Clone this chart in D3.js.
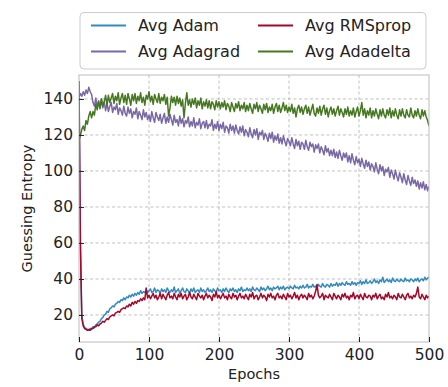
<!DOCTYPE html>
<html>
<head>
<meta charset="utf-8">
<script src="https://cdn.jsdelivr.net/npm/d3@7"></script>
<style>
  body { margin: 0; background: white; }
  text { font-family: "DejaVu Sans", sans-serif; }
</style>
</head>
<body>
<script>
// epochs sampled every 2
const epochs = d3.range(0, 501, 2);

const adam = [
  150, 60, 20, 15, 13, 12.5, 12, 11.5, 12.5, 12,
  13.5, 13, 14.5, 15, 16, 16.5, 18, 18.5, 20, 20.5,
  22, 21.5, 23.5, 24, 25, 24.5, 26, 26.5, 27.5, 27,
  28.5, 28, 29.5, 28.5, 30, 29.5, 31, 30, 31.5, 30.5,
  32, 31, 32.5, 31.5, 33.5, 32, 33, 32.5, 34, 32.5,
  33.5, 34.5, 32.5, 33, 35, 32.5, 34, 33.5, 32, 34.5,
  33, 34, 32.5, 35, 33.5, 32.5, 34, 33, 35.5, 32.5,
  33.5, 34.5, 32, 33.5, 35, 33, 32.5, 34.5, 33.5, 32,
  34.5, 33, 35, 32.5, 33.5, 34, 32.5, 35, 33, 34,
  32.5, 33.5, 35, 33, 34, 32.5, 34.5, 33.5, 32.5, 35,
  33.5, 34, 32.5, 34.5, 33, 35, 33.5, 32.5, 34.5, 33.5,
  35, 33, 34, 32.5, 34.5, 33.5, 35.5, 33, 34, 33.5,
  35, 33.5, 34.5, 33, 35.5, 34, 33.5, 35, 34, 33,
  35.5, 34, 35, 33.5, 34.5, 36, 34, 35, 33.5, 35.5,
  34.5, 35, 36, 34, 35.5, 34.5, 36, 34, 35, 35.5,
  34.5, 36, 35, 34.5, 36.5, 35, 35.5, 34.5, 36, 35,
  36.5, 35, 35.5, 37, 35, 36, 35.5, 37, 35.5, 36,
  35, 37, 36, 35.5, 37.5, 36, 35.5, 37, 36.5, 35.5,
  37.5, 36, 37, 36.5, 38, 36, 37.5, 36.5, 38, 37,
  36.5, 38.5, 37, 37.5, 36.5, 38.5, 37, 38, 36.5, 38,
  37.5, 39, 37, 38.5, 37.5, 39.5, 37.5, 38, 39, 37.5,
  38.5, 40, 38, 39, 37.5, 39.5, 38.5, 41, 38, 39,
  40, 38.5, 39.5, 38, 40.5, 39, 38.5, 40, 39, 38.5,
  40, 39, 38.5, 40.5, 39, 39.5, 38.5, 40, 39.5, 38.5,
  40, 39, 40.5, 38.5, 39.5, 40, 39, 41, 39.5, 40.5,
  41];

const rmsprop = [
  150, 58, 18, 14, 12.5, 12, 11.5, 12, 11.5, 12.5,
  12.5, 13.5, 13.5, 14.5, 14, 15, 15.5, 16.5, 16, 17,
  18, 17.5, 19, 19.5, 20, 19.5, 21, 21.5, 22, 21.5,
  23, 23.5, 24, 23.5, 25, 24.5, 26, 25, 27, 26,
  27.5, 26.5, 28, 27.5, 29, 28, 29.5, 28.5, 35, 29.5,
  31, 29, 30.5, 32, 29.5, 31, 28.5, 30, 32, 29,
  31.5, 30, 28.5, 31, 32.5, 29.5, 30.5, 29, 32, 30,
  28.5, 31.5, 30, 32, 29, 30.5, 31.5, 28.5, 30, 32.5,
  30, 29, 31.5, 30, 28.5, 32, 30.5, 29.5, 31, 28.5,
  30.5, 32, 29.5, 31, 30, 28, 31.5, 30, 33, 29.5,
  31, 29, 30.5, 32, 29.5, 30.5, 28.5, 31.5, 30, 29,
  32, 30, 31, 28.5, 30.5, 32, 29.5, 30.5, 29, 31.5,
  30, 28.5, 31.5, 30, 32.5, 29, 30.5, 31, 28.5, 30,
  32, 29.5, 31, 30, 28, 31.5, 30, 32, 29.5, 30.5,
  28.5, 31, 32, 29.5, 30.5, 29, 31.5, 30, 28.5, 32,
  30, 31, 29, 30.5, 32.5, 29.5, 31, 28.5, 30.5, 31.5,
  29.5, 31, 30, 28.5, 32, 30, 31, 29, 30.5, 33,
  37, 31, 29.5, 30.5, 32, 28.5, 31, 30, 29.5, 31.5,
  30, 28.5, 32, 30.5, 29, 31, 30, 28.5, 31.5, 30,
  32, 29.5, 30.5, 28.5, 31, 30, 32.5, 29, 30.5, 31,
  29, 31.5, 30, 28.5, 32, 30, 29.5, 31, 30.5, 28.5,
  31, 30, 32, 29, 30.5, 31.5, 29, 30, 28.5, 31.5,
  30, 32.5, 29.5, 30.5, 29, 31, 30, 28.5, 32, 30,
  29.5, 31.5, 30, 28.5, 31, 32, 29.5, 30.5, 29, 31,
  30, 32, 35.5, 30, 29, 31.5, 30, 28.5, 31, 29.5,
  30.5];

const adagrad = [
  141, 143, 141.5, 144, 142, 145, 143, 146.5, 144, 142.5,
  138, 136, 140.5, 135.5, 139, 134.5, 140, 135, 138.5, 133.5,
  137.5, 133, 136, 138, 132.5, 135.5, 134, 137.5, 131.5, 135,
  133.5, 131, 136, 132, 130.5, 135.5, 132, 134.5, 129.5, 133,
  131.5, 135, 129, 133, 131, 128.5, 134, 130, 132.5, 128.5,
  131, 127.5, 133, 129.5, 127, 132.5, 130, 128, 131.5, 126.5,
  129.5, 132, 126.5, 130, 127, 131.5, 128.5, 125.5, 131, 127,
  128.5, 125, 130.5, 126.5, 129, 124.5, 128, 126.5, 130, 124.5,
  127.5, 125, 129.5, 124, 127, 125.5, 129, 123.5, 126.5, 127.5,
  124, 128, 123.5, 126, 125, 128.5, 122.5, 126, 123.5, 127.5,
  122.5, 126, 123.5, 127, 121.5, 125, 124, 121, 126, 122.5,
  125, 121, 125.5, 122.5, 120.5, 124.5, 121.5, 125, 119.5, 123,
  121.5, 119, 124, 120.5, 118.5, 123, 120, 123.5, 117.5, 121.5,
  120, 122.5, 117.5, 121, 119, 116.5, 121, 118, 121.5, 116,
  119.5, 117, 120.5, 115.5, 118.5, 115, 119.5, 116.5, 114, 118,
  116.5, 114, 118.5, 115, 112.5, 117.5, 114, 116.5, 112, 116,
  115, 112, 117, 113.5, 111.5, 116, 113.5, 115, 110.5, 114.5,
  112.5, 115, 110, 113.5, 111.5, 109, 114, 110.5, 112.5, 108.5,
  111.5, 108.5, 112, 107.5, 110.5, 107, 111.5, 108.5, 106, 110,
  107.5, 110, 105, 108.5, 104.5, 109.5, 106, 103.5, 108, 104.5,
  106.5, 102.5, 107, 104, 101.5, 106, 102.5, 105, 100.5, 104,
  102.5, 99.5, 104.5, 101, 98.5, 103.5, 100, 102.5, 97.5, 101,
  99.5, 102, 96.5, 100.5, 98.5, 95.5, 100.5, 97, 94.5, 99,
  96.5, 93.5, 98.5, 95, 92.5, 97.5, 94.5, 92, 96.5, 93,
  95, 91.5, 94.5, 90, 93.5, 90.5, 94, 89.5, 92.5, 89,
  91.5];

const adadelta = [
  117, 120, 123, 125, 122.5, 128, 126, 130.5, 133, 129.5,
  133, 131, 137, 134, 138.5, 135, 140, 136, 138.5, 142,
  136.5, 142, 138, 140.5, 143, 137.5, 141.5, 139, 143.5, 137,
  140.5, 143, 138, 142, 137, 143, 140, 136.5, 142.5, 139,
  143, 137.5, 141.5, 139, 143.5, 138, 141, 136.5, 142, 140,
  144, 138.5, 141.5, 137, 142.5, 140, 138, 143, 137.5, 141,
  139, 142.5, 137, 141, 130.5, 135, 141.5, 138, 141, 136.5,
  141.5, 137.5, 140.5, 136, 139.5, 129.5, 137.5, 143.5, 136.5, 139.5,
  135.5, 140, 137, 140.5, 135, 139, 136.5, 140.5, 134.5, 138.5,
  136, 139.5, 135, 139, 134.5, 138.5, 137, 134, 139, 135.5,
  138.5, 134.5, 138, 135.5, 139, 134, 137.5, 136, 133, 138,
  135.5, 133, 137.5, 135, 138.5, 133.5, 136.5, 134.5, 138, 133,
  136.5, 133.5, 137.5, 134.5, 132, 137, 134.5, 138, 133, 136.5,
  134.5, 132, 137, 134, 137.5, 132.5, 135.5, 133.5, 137, 132,
  135.5, 137.5, 133, 136.5, 132.5, 135, 138, 133.5, 136.5, 132.5,
  135.5, 133, 137, 132, 135, 130, 134.5, 136.5, 132.5, 135.5,
  131.5, 134.5, 136.5, 132, 135.5, 131, 134, 137, 132, 130.5,
  135, 132, 136, 131, 134.5, 136.5, 131.5, 135, 130, 133.5,
  135.5, 131.5, 134.5, 130.5, 133.5, 136, 131, 134.5, 132.5, 130,
  134.5, 131.5, 135.5, 130.5, 133.5, 131, 135, 130, 133, 135.5,
  130.5, 133.5, 138, 131, 134.5, 129.5, 133.5, 131, 135, 129.5,
  133.5, 130.5, 134.5, 131.5, 129, 134, 130.5, 134.5, 131, 129.5,
  134, 131, 135, 129.5, 133.5, 130.5, 134.5, 131, 129, 134,
  130.5, 134.5, 131, 129.5, 134, 131, 130, 135, 131, 129.5,
  133.5, 130.5, 134.5, 131, 129, 134, 130.5, 133.5, 130, 128,
  125];

const seriesNames = ["Avg Adam", "Avg RMSprop", "Avg Adagrad", "Avg Adadelta"];
const seriesData = [adam, rmsprop, adagrad, adadelta];
const colors = ["#348ABD", "#A60628", "#7A68A6", "#467821"];
const xTicks = [0, 100, 200, 300, 400, 500];
const yTicks = [20, 40, 60, 80, 100, 120, 140];

const W = 448, H = 387;
const margin = { top: 75, right: 19, bottom: 45, left: 79 };
const iw = W - margin.left - margin.right;
const ih = H - margin.top - margin.bottom;

const svg = d3.select("body").append("svg").attr("width", W).attr("height", H);

const x = d3.scaleLinear().domain([0, 500]).range([0, iw]);
const y = d3.scaleLinear().domain([5, 153.3]).range([ih, 0]);

const g = svg.append("g").attr("transform", `translate(${margin.left},${margin.top})`);

g.append("clipPath").attr("id", "clip")
  .append("rect").attr("width", iw).attr("height", ih);

// grid
g.selectAll(".gx").data(xTicks.slice(1, -1)).join("line")
  .attr("x1", d => x(d)).attr("x2", d => x(d))
  .attr("y1", 0).attr("y2", ih)
  .attr("stroke", "#b0b0b0").attr("stroke-width", 0.8).attr("stroke-dasharray", "3,2.5");
g.selectAll(".gy").data(yTicks).join("line")
  .attr("x1", 0).attr("x2", iw)
  .attr("y1", d => y(d)).attr("y2", d => y(d))
  .attr("stroke", "#b0b0b0").attr("stroke-width", 0.8).attr("stroke-dasharray", "3,2.5");

// lines
const line = d3.line().x((d, i) => x(epochs[i])).y(d => y(d));
const plot = g.append("g").attr("clip-path", "url(#clip)");
[2, 3, 0, 1].forEach(k => {
  plot.append("path")
    .datum(seriesData[k])
    .attr("fill", "none")
    .attr("stroke", colors[k])
    .attr("stroke-width", 1.5)
    .attr("stroke-linejoin", "round")
    .attr("d", line);
});

// frame
g.append("rect").attr("width", iw).attr("height", ih)
  .attr("fill", "none").attr("stroke", "#bcbcbc").attr("stroke-width", 1);

// axes (ticks inward)
const xAxis = g.append("g").attr("transform", `translate(0,${ih})`)
  .call(d3.axisBottom(x).tickValues(xTicks).tickSize(-5).tickPadding(7));
const yAxis = g.append("g")
  .call(d3.axisLeft(y).tickValues(yTicks).tickSize(-5).tickPadding(6));
[xAxis, yAxis].forEach(a => {
  a.select(".domain").remove();
  a.selectAll("line").attr("stroke", "#222");
  a.selectAll("text").attr("font-size", "15.5px").attr("fill", "#222")
    .attr("font-family", "DejaVu Sans");
});

// axis labels
svg.append("text").attr("x", margin.left + iw / 2).attr("y", 379)
  .attr("text-anchor", "middle").attr("font-size", "14.5px").attr("fill", "#222")
  .text("Epochs");
svg.append("text")
  .attr("transform", `translate(32,${margin.top + ih / 2}) rotate(-90)`)
  .attr("text-anchor", "middle").attr("font-size", "14.5px").attr("fill", "#222")
  .text("Guessing Entropy");

// legend
const legend = svg.append("g");
legend.append("rect")
  .attr("x", 80).attr("y", 12.5).attr("width", 346).attr("height", 56.5)
  .attr("rx", 4).attr("fill", "white").attr("stroke", "#cccccc").attr("stroke-width", 1);
const legendOrder = [0, 2, 1, 3];
legendOrder.forEach((k, i) => {
  const col = Math.floor(i / 2), row = i % 2;
  const lx = col === 0 ? 91 : 258;
  const ly = row === 0 ? 25.5 : 51.5;
  legend.append("line")
    .attr("x1", lx).attr("x2", lx + 35).attr("y1", ly).attr("y2", ly)
    .attr("stroke", colors[k]).attr("stroke-width", 2.2);
  legend.append("text")
    .attr("x", lx + 47).attr("y", ly).attr("dy", "0.35em")
    .attr("font-size", "16px").attr("fill", "#222")
    .text(seriesNames[k]);
});
</script>
</body>
</html>
